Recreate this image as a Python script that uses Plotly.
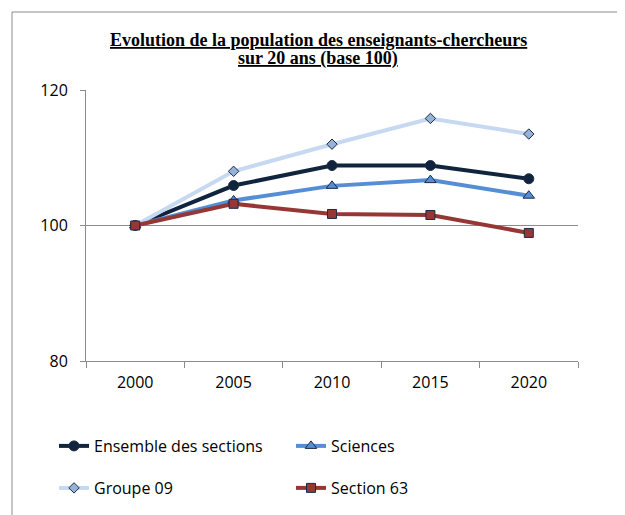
import plotly.graph_objects as go

years = ["2000", "2005", "2010", "2015", "2020"]
ensemble = [100, 105.9, 108.85, 108.85, 106.9]
sciences = [100, 103.7, 105.85, 106.7, 104.4]
groupe09 = [100, 108.0, 112.0, 115.8, 113.5]
section63 = [100, 103.2, 101.7, 101.55, 98.9]
y_ticks = [80, 100, 120]

W, H = 625, 515
OFF = 8  # page body margin
L, R, T, B = 86 - OFF, 578 - OFF, 90 - OFF, 361 - OFF

fig = go.Figure()
outline = dict(color="#1F2A44", width=1)
fig.add_trace(go.Scatter(x=years, y=ensemble, name="Ensemble des sections", mode="lines+markers",
                         line=dict(color="#10243E", width=4),
                         marker=dict(symbol="circle", size=10, color="#10243E", line=outline),
                         legend="legend"))
fig.add_trace(go.Scatter(x=years, y=sciences, name="Sciences", mode="lines+markers",
                         line=dict(color="#558ED5", width=4),
                         marker=dict(symbol="triangle-up", size=10, color="#558ED5", line=outline),
                         legend="legend"))
fig.add_trace(go.Scatter(x=years, y=groupe09, name="Groupe 09", mode="lines+markers",
                         line=dict(color="#C6D9F1", width=4),
                         marker=dict(symbol="diamond", size=8, color="#95B3D7", line=outline),
                         legend="legend2"))
fig.add_trace(go.Scatter(x=years, y=section63, name="Section 63", mode="lines+markers",
                         line=dict(color="#953735", width=4),
                         marker=dict(symbol="square", size=9, color="#953735", line=outline),
                         legend="legend2"))

pw, ph = R - L, B - T
def px(x):  # screen pixel -> paper x
    return (x - OFF - L) / pw
def py(y):  # screen pixel -> paper y
    return (B - (y - OFF)) / ph

fig.add_shape(type="rect", xref="paper", yref="paper",
              x0=px(12), x1=px(620), y0=py(540), y1=py(12),
              line=dict(color="#8C8C8C", width=1), layer="below")

tfont = dict(family="Liberation Serif, Times New Roman, serif", size=18, color="#000000")
fig.add_annotation(text="<b><u>Evolution de la population des enseignants-chercheurs</u></b>",
                   xref="paper", yref="paper", x=px(318), y=py(40), xanchor="center", yanchor="middle",
                   showarrow=False, font=tfont)
fig.add_annotation(text="<b><u>sur 20 ans (base 100)</u></b>",
                   xref="paper", yref="paper", x=px(318), y=py(58), xanchor="center", yanchor="middle",
                   showarrow=False, font=tfont)

sfont = dict(family="Open Sans, sans-serif", size=16, color="#000000")
fig.update_layout(
    width=W, height=H,
    margin=dict(l=L, r=W - R, t=T, b=H - B),
    paper_bgcolor="white", plot_bgcolor="white",
    showlegend=True,
    xaxis=dict(type="category", showgrid=False, showline=True, linecolor="#8C8C8C", linewidth=1,
               ticks="outside", tickson="boundaries", ticklen=6, tickcolor="#8C8C8C",
               tickfont=sfont, ticklabelstandoff=7,
               range=[-0.5, 4.5], fixedrange=True),
    yaxis=dict(range=[80, 120], tickvals=y_ticks, showgrid=True, gridcolor="#8C8C8C", gridwidth=1,
               showline=True, linecolor="#8C8C8C", linewidth=1, ticks="outside", ticklen=5,
               tickcolor="#8C8C8C", zeroline=False, ticklabelstandoff=9,
               tickfont=sfont),
    legend=dict(orientation="h", x=px(54), y=py(446), xanchor="left", yanchor="middle",
                entrywidth=192, entrywidthmode="pixels", font=sfont, bgcolor="rgba(0,0,0,0)"),
    legend2=dict(orientation="h", x=px(54), y=py(488), xanchor="left", yanchor="middle",
                 entrywidth=192, entrywidthmode="pixels", font=sfont, bgcolor="rgba(0,0,0,0)"),
)

fig.write_html("out.html")
